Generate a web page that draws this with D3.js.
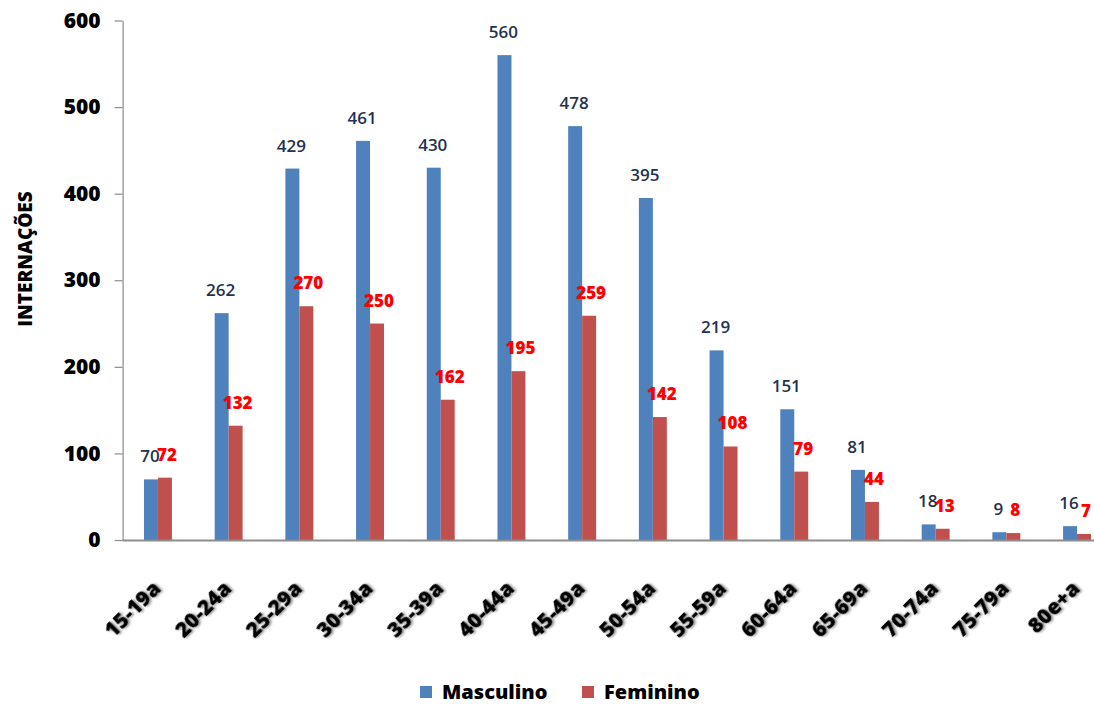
<!DOCTYPE html>
<html>
<head>
<meta charset="utf-8">
<script src="https://cdn.jsdelivr.net/npm/d3@7"></script>
<style>
  html, body { margin: 0; padding: 0; background: #ffffff; }
  svg { display: block; }
  text { font-family: "Open Sans", Lato, "DejaVu Sans", sans-serif; }
</style>
</head>
<body>
<svg id="chart" width="1094" height="706"></svg>
<script>
// Age groups and hospitalisations by sex
const categories = ["15-19a","20-24a","25-29a","30-34a","35-39a","40-44a","45-49a","50-54a","55-59a","60-64a","65-69a","70-74a","75-79a","80e+a"];
const masculino = [70, 262, 429, 461, 430, 560, 478, 395, 219, 151, 81, 18, 9, 16];
const feminino  = [72, 132, 270, 250, 162, 195, 259, 142, 108, 79, 44, 13, 8, 7];
const yTicks = [0, 100, 200, 300, 400, 500, 600];
const seriesNames = ["Masculino", "Feminino"];

const colors = { Masculino: "#4F81BD", Feminino: "#C0504D" };
const labelColors = { Masculino: "#1F3350", Feminino: "#FF0000" };

const svg = d3.select("#chart");

const x0 = 122.6, plotTop = 20.5, plotBottom = 540;
const band = 70.7;

const x = d3.scaleBand()
  .domain(categories)
  .range([x0, x0 + band * categories.length])
  .paddingInner(0)
  .paddingOuter(0);

// two 14px bars centred in each 70.7px category slot
const xs = d3.scaleBand()
  .domain(seriesNames)
  .range([0, x.bandwidth()])
  .paddingInner(0)
  .paddingOuter(1.53);

const y = d3.scaleLinear().domain([0, 600]).range([plotBottom, plotTop]);

// Y axis
const yAxis = svg.append("g")
  .attr("transform", `translate(${x0},0)`)
  .call(d3.axisLeft(y).tickValues(yTicks).tickSize(8).tickPadding(14).tickSizeOuter(0));
yAxis.select(".domain").attr("stroke", "#8c8c8c").attr("stroke-width", 1.2);
yAxis.selectAll(".tick line").attr("stroke", "#8c8c8c").attr("stroke-width", 1.2);
yAxis.selectAll(".tick text")
  .attr("font-size", 21).attr("font-weight", 800).attr("fill", "#000")
  .style("font-family", "'Open Sans', sans-serif");

// Y axis title
svg.append("text")
  .attr("transform", `translate(32,259) rotate(-90)`)
  .attr("text-anchor", "middle")
  .attr("font-size", 19).attr("font-weight", 800).attr("fill", "#000")
  .text("INTERNAÇÕES");

// Bars
const rows = categories.map((c, i) => ({ cat: c, Masculino: masculino[i], Feminino: feminino[i] }));

const groups = svg.append("g").selectAll("g")
  .data(rows)
  .join("g")
  .attr("transform", d => `translate(${x(d.cat)},0)`);

groups.selectAll("rect")
  .data(d => seriesNames.map(k => ({ key: k, value: d[k] })))
  .join("rect")
  .attr("x", d => xs(d.key))
  .attr("width", xs.bandwidth())
  .attr("y", d => y(d.value))
  .attr("height", d => y(0) - y(d.value))
  .attr("fill", d => colors[d.key]);

// Value labels
groups.selectAll("text")
  .data(d => seriesNames.map(k => ({ key: k, value: d[k] })))
  .join("text")
  .attr("x", d => xs(d.key) + xs.bandwidth() / 2 + (d.key === "Feminino" ? 2 : -1))
  .attr("y", d => y(d.value) - 17)
  .attr("text-anchor", "middle")
  .attr("font-size", 17)
  .attr("font-weight", d => d.key === "Feminino" ? 800 : 600)
  .attr("fill", d => labelColors[d.key])
  .text(d => d.value);

// X axis baseline
svg.append("line")
  .attr("x1", x0).attr("x2", 1094)
  .attr("y1", plotBottom + 0.5).attr("y2", plotBottom + 0.5)
  .attr("stroke", "#8c8c8c").attr("stroke-width", 2);

// X category labels (rotated, with soft shadow)
const defs = svg.append("defs");
const f = defs.append("filter").attr("id", "shadow").attr("x", "-20%").attr("y", "-20%").attr("width", "140%").attr("height", "140%");
f.append("feDropShadow").attr("dx", 1.5).attr("dy", 1.5).attr("stdDeviation", 0.8).attr("flood-color", "#000").attr("flood-opacity", 0.45);

svg.append("g").selectAll("text")
  .data(categories)
  .join("text")
  .attr("transform", d => `translate(${x(d) + x.bandwidth() / 2 + 4},${plotBottom + 50}) rotate(-45)`)
  .attr("text-anchor", "end")
  .attr("font-size", 21).attr("font-weight", 800).attr("fill", "#000")
  .attr("filter", "url(#shadow)")
  .text(d => d);

// Legend
const legend = svg.append("g").attr("transform", "translate(420,686)");
const li = legend.selectAll("g").data(seriesNames).join("g")
  .attr("transform", (d, i) => `translate(${i === 0 ? 0 : 162},0)`);
li.append("rect").attr("width", 12).attr("height", 12).attr("fill", d => colors[d]);
li.append("text")
  .attr("x", 22).attr("y", 13)
  .attr("font-size", 20).attr("font-weight", 800).attr("fill", "#000")
  .text(d => d);
</script>
</body>
</html>
